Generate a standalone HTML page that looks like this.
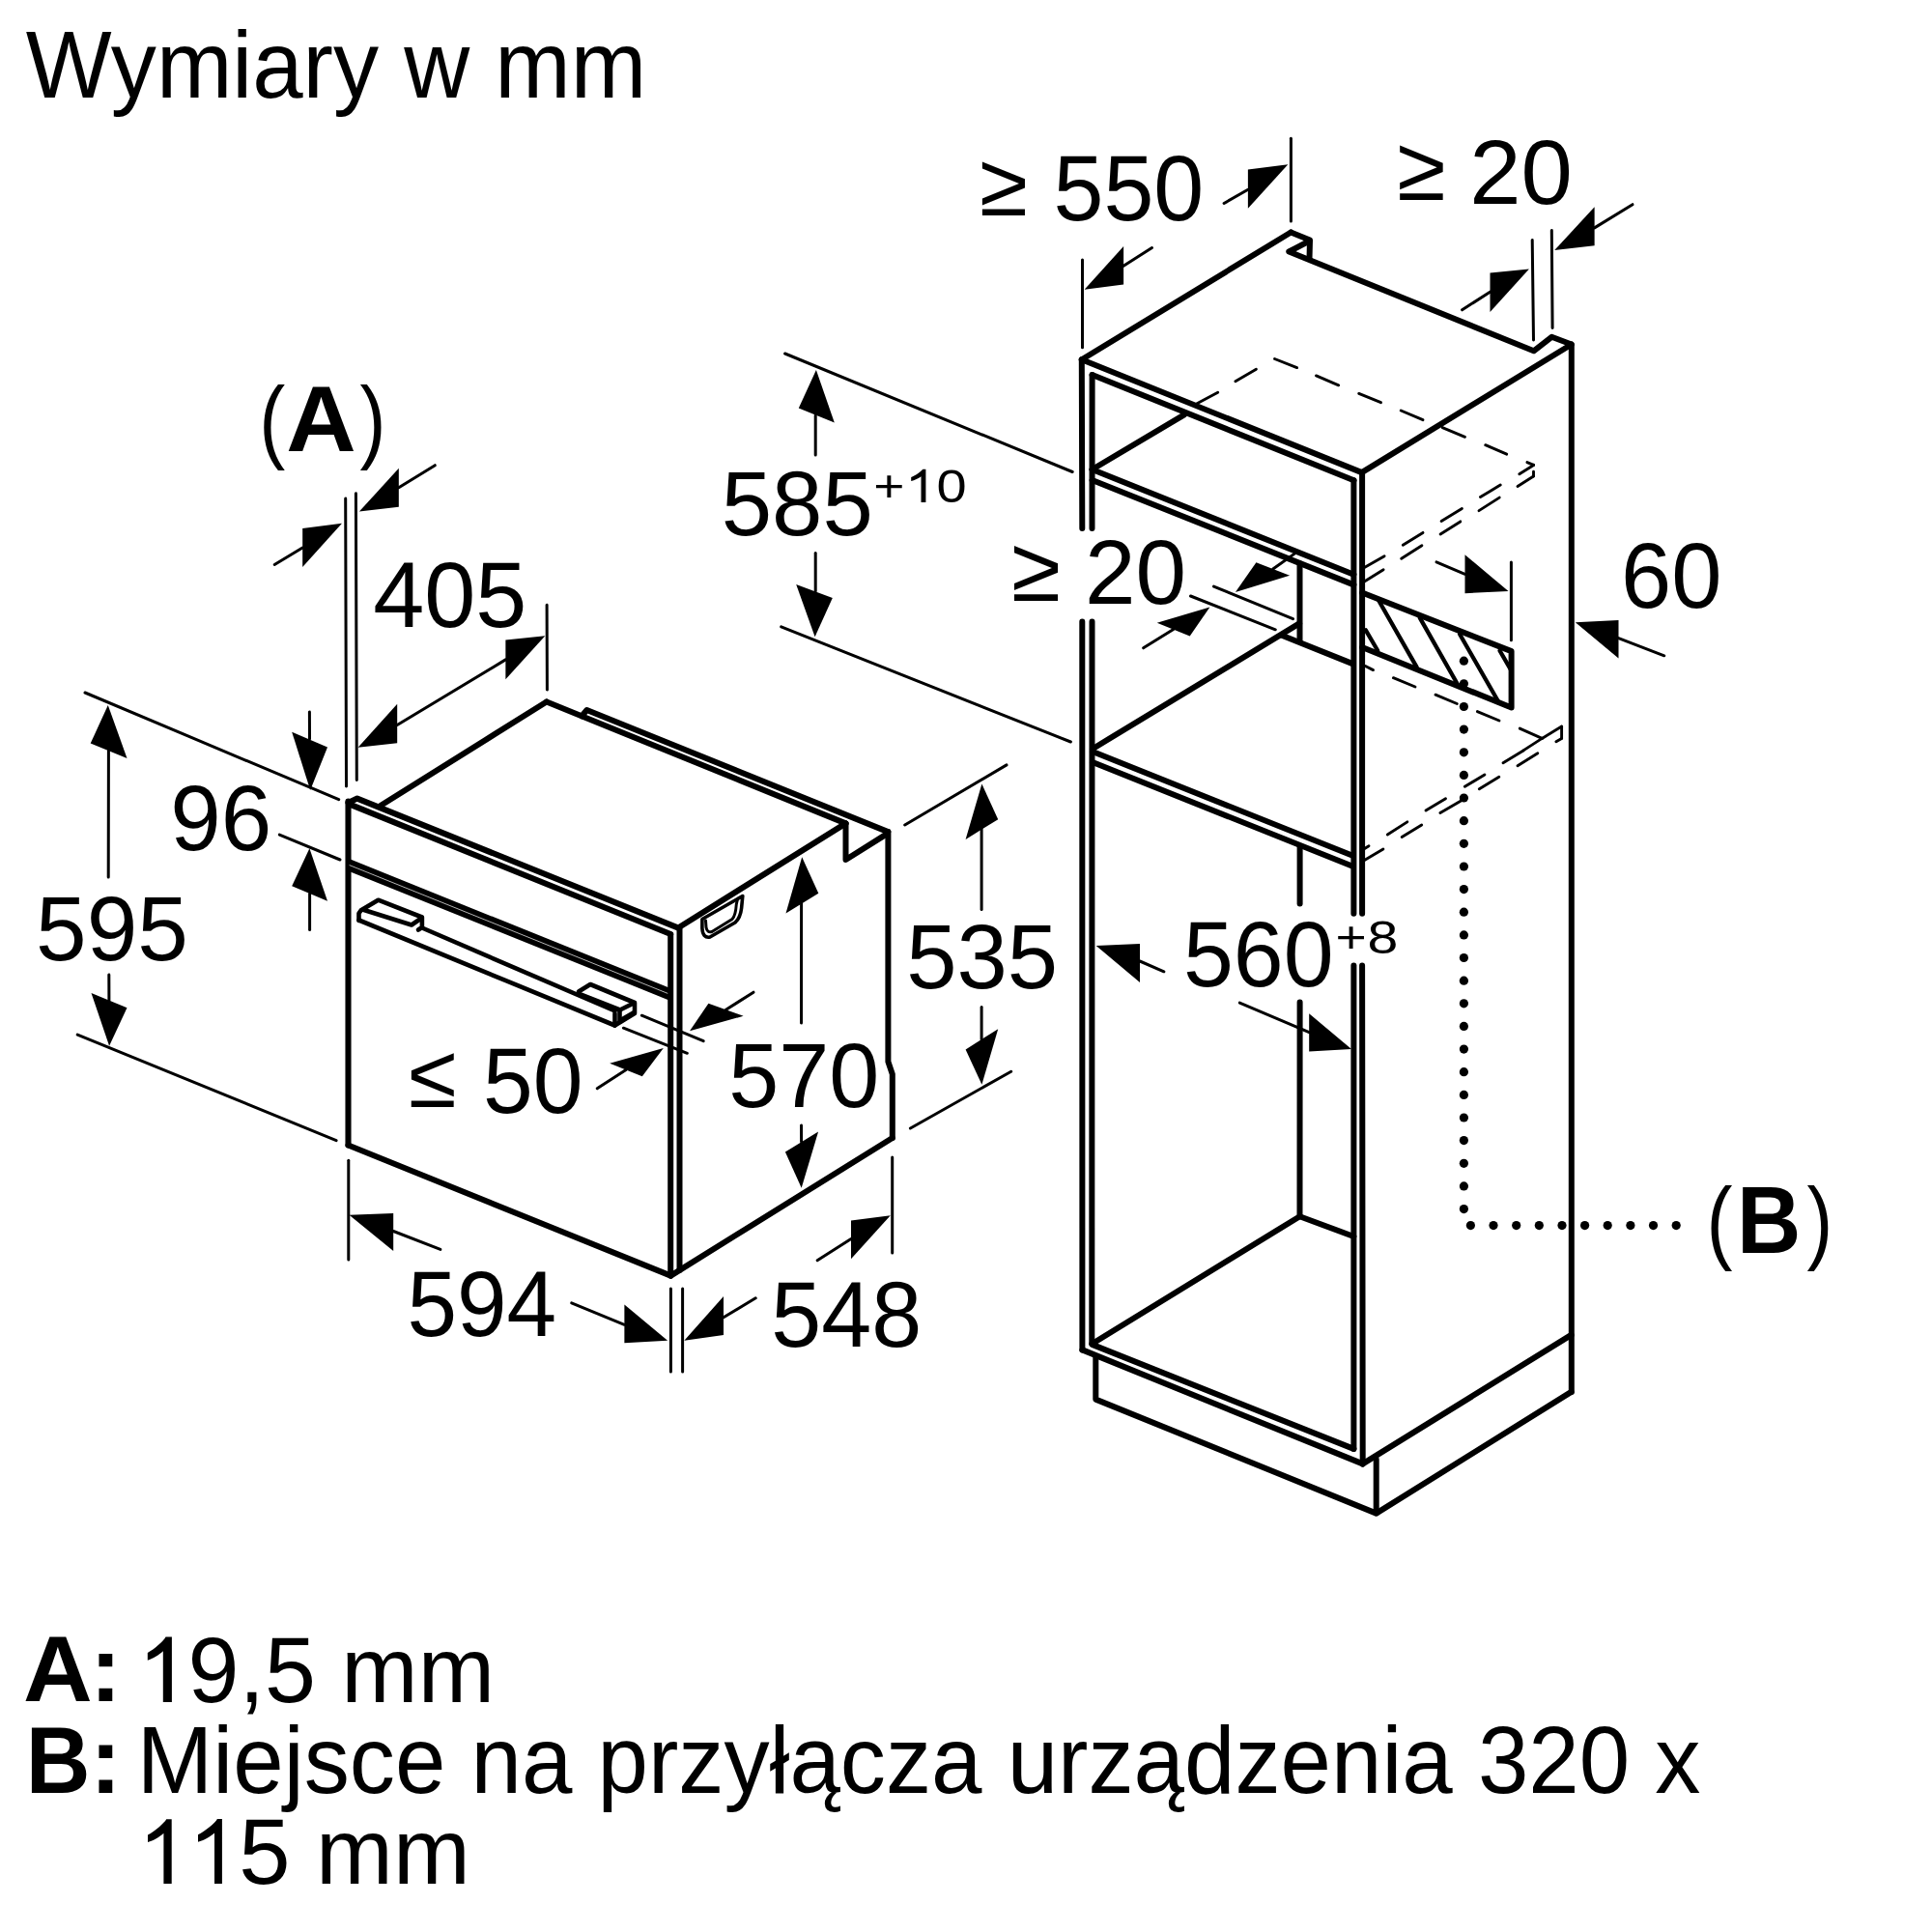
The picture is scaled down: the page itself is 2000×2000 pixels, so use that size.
<!DOCTYPE html>
<html><head><meta charset="utf-8"><style>
html,body{margin:0;padding:0;background:#fff;}
svg{display:block;}
text{font-family:"Liberation Sans",sans-serif;fill:#000;}
</style></head><body>
<svg width="2000" height="2000" viewBox="0 0 2000 2000" xmlns="http://www.w3.org/2000/svg">
<rect width="2000" height="2000" fill="#fff"/>
<g stroke="#000" stroke-linecap="round" stroke-linejoin="round" fill="none">
<line x1="360.5" y1="829.5" x2="360.5" y2="1185.5" stroke-width="6.1"/>
<polyline points="360.5,831.0 369.8,826.6 702.9,960.9" stroke-width="6.1" fill="none"/>
<line x1="362.0" y1="832.6" x2="694.2" y2="967.0" stroke-width="6.1"/>
<line x1="360.5" y1="895.1" x2="694.2" y2="1029.6" stroke-width="12.0" stroke-linecap="butt"/>
<line x1="362" y1="895.7" x2="693" y2="1029.1" stroke="#fff" stroke-width="0.7"/>
<line x1="360.5" y1="1185.5" x2="694.4" y2="1320.6" stroke-width="6.0"/>
<line x1="694.2" y1="967.5" x2="694.2" y2="1320.6" stroke-width="6.0"/>
<line x1="703.5" y1="960.0" x2="703.5" y2="1315.0" stroke-width="6.0"/>
<line x1="694.4" y1="1320.6" x2="923.8" y2="1178.0" stroke-width="6.0"/>
<polyline points="919.4,861.0 919.4,1099.0 923.8,1112.0 923.8,1178.0" stroke-width="6.0" fill="none"/>
<line x1="702.9" y1="960.0" x2="875.5" y2="852.4" stroke-width="6.0"/>
<polyline points="875.5,852.4 875.5,890.0 917.9,863.4" stroke-width="6.0" fill="none"/>
<line x1="565.8" y1="726.5" x2="875.5" y2="852.4" stroke-width="6.0"/>
<polyline points="602.3,741.2 607.5,735.0 919.3,861.1" stroke-width="6.0" fill="none"/>
<line x1="393.1" y1="834.5" x2="565.8" y2="726.5" stroke-width="6.0"/>
<path d="M726.9,951.5 L726.9,961 Q727.5,971.5 735,970 L761,955 Q766.5,950 767.6,940 L768.8,927.5 Z" fill="none" stroke-width="3.6"/>
<path d="M730.5,953 L731,960 Q732,966 737,964.5 L758,951.5 Q761.5,948 762.3,936 L763.5,931" fill="none" stroke-width="3.0"/>
<polyline points="371.5,953.0 371.5,945.5 373.8,942.2 391.5,931.7 436.9,949.5 436.9,960.0 433.0,962.5" stroke-width="4.6" fill="none"/>
<polyline points="376.0,941.8 426.0,957.5 435.5,951.0" stroke-width="4.6" fill="none"/>
<polyline points="436.9,960.5 636.5,1046.5" stroke-width="4.6" fill="none"/>
<polyline points="371.5,952.5 636.5,1061.5" stroke-width="4.6" fill="none"/>
<polyline points="599.0,1026.5 611.1,1019.0 657.0,1038.0 657.0,1049.0 636.5,1061.5 636.5,1049.0" stroke-width="4.6" fill="none"/>
<polyline points="601.0,1029.5 641.8,1045.5 656.0,1038.5" stroke-width="4.6" fill="none"/>
<polyline points="643.5,1054.5 656.5,1047.0" stroke-width="3.0" fill="none"/>
<line x1="641.5" y1="1045.5" x2="641.5" y2="1058.0" stroke-width="4.6"/>
<line x1="357.7" y1="516.0" x2="358.5" y2="813.9" stroke-width="3.0"/>
<line x1="368.4" y1="510.7" x2="369.3" y2="807.4" stroke-width="3.0"/>
<polygon points="371.9,529.6 412.8,484.8 412.8,524.8" fill="#000" stroke="none"/>
<line x1="412.8" y1="504.8" x2="450.3" y2="481.7" stroke-width="3.0"/>
<polygon points="354.0,541.7 313.2,547.0 313.2,587.0" fill="#000" stroke="none"/>
<line x1="313.2" y1="567.0" x2="284.2" y2="584.5" stroke-width="3.0"/>
<line x1="566.1" y1="626.3" x2="566.4" y2="714.0" stroke-width="3.0"/>
<polygon points="564.3,658.2 523.4,662.6 523.4,703.2" fill="#000" stroke="none"/>
<line x1="523.4" y1="682.9" x2="411.2" y2="750.5" stroke-width="3.0"/>
<polygon points="370.6,773.8 411.2,728.8 411.2,769.2" fill="#000" stroke="none"/>
<line x1="88.0" y1="717.0" x2="350.7" y2="827.7" stroke-width="3.0"/>
<polygon points="111.8,729.9 93.7,769.6 131.5,785.0" fill="#000" stroke="none"/>
<line x1="112.4" y1="777.0" x2="112.2" y2="908.0" stroke-width="3.0"/>
<line x1="112.8" y1="1009.0" x2="112.9" y2="1036.0" stroke-width="3.0"/>
<polygon points="113.1,1082.8 94.5,1027.9 131.5,1043.3" fill="#000" stroke="none"/>
<line x1="80.2" y1="1071.1" x2="348.1" y2="1180.6" stroke-width="3.0"/>
<line x1="320.4" y1="737.0" x2="320.5" y2="765.0" stroke-width="3.0"/>
<polygon points="321.2,818.0 302.2,757.8 339.0,773.4" fill="#000" stroke="none"/>
<line x1="289.3" y1="864.1" x2="352.0" y2="890.0" stroke-width="3.0"/>
<polygon points="320.4,878.3 302.2,917.2 339.0,932.8" fill="#000" stroke="none"/>
<line x1="320.6" y1="925.0" x2="320.6" y2="962.5" stroke-width="3.0"/>
<polygon points="830.2,887.2 813.5,945.6 847.3,924.8" fill="#000" stroke="none"/>
<line x1="829.6" y1="935.0" x2="829.5" y2="1059.0" stroke-width="3.0"/>
<line x1="829.5" y1="1165.0" x2="829.6" y2="1182.0" stroke-width="3.0"/>
<polygon points="829.7,1229.7 812.9,1192.4 847.1,1171.6" fill="#000" stroke="none"/>
<line x1="936.7" y1="854.0" x2="1042.0" y2="791.9" stroke-width="3.0"/>
<polygon points="1016.4,811.6 999.6,868.9 1033.2,848.3" fill="#000" stroke="none"/>
<line x1="1016.1" y1="858.0" x2="1016.1" y2="941.5" stroke-width="3.0"/>
<line x1="1016.1" y1="1042.4" x2="1016.1" y2="1076.0" stroke-width="3.0"/>
<polygon points="1016.4,1122.7 999.6,1086.4 1033.2,1065.2" fill="#000" stroke="none"/>
<line x1="942.4" y1="1168.0" x2="1046.7" y2="1109.2" stroke-width="3.0"/>
<line x1="664.3" y1="1051.2" x2="728.2" y2="1077.6" stroke-width="3.0"/>
<line x1="645.4" y1="1064.2" x2="711.4" y2="1090.3" stroke-width="3.0"/>
<polygon points="714.0,1067.3 733.4,1038.8 769.6,1051.8" fill="#000" stroke="none"/>
<line x1="751.5" y1="1045.3" x2="780.0" y2="1027.2" stroke-width="3.0"/>
<polygon points="686.8,1084.9 631.2,1100.8 664.8,1114.3" fill="#000" stroke="none"/>
<line x1="648.0" y1="1107.6" x2="618.2" y2="1126.8" stroke-width="3.0"/>
<line x1="360.8" y1="1201.3" x2="360.8" y2="1304.0" stroke-width="3.0"/>
<polygon points="361.5,1257.7 407.2,1255.9 407.2,1295.1" fill="#000" stroke="none"/>
<line x1="407.2" y1="1274.5" x2="455.9" y2="1293.4" stroke-width="3.0"/>
<polygon points="691.1,1387.8 646.4,1350.4 646.4,1390.2" fill="#000" stroke="none"/>
<line x1="646.4" y1="1371.3" x2="591.7" y2="1348.8" stroke-width="3.0"/>
<line x1="694.4" y1="1333.9" x2="694.4" y2="1420.0" stroke-width="3.0"/>
<line x1="706.6" y1="1333.9" x2="706.6" y2="1420.0" stroke-width="3.0"/>
<polygon points="708.3,1387.8 749.0,1342.1 749.0,1381.9" fill="#000" stroke="none"/>
<line x1="749.0" y1="1363.7" x2="782.2" y2="1343.8" stroke-width="3.0"/>
<polygon points="921.8,1258.2 881.0,1263.4 881.0,1303.2" fill="#000" stroke="none"/>
<line x1="881.0" y1="1282.5" x2="846.1" y2="1304.8" stroke-width="3.0"/>
<line x1="923.7" y1="1198.1" x2="923.7" y2="1297.0" stroke-width="3.0"/>
<line x1="1119.8" y1="372.3" x2="1120.3" y2="547.0" stroke-width="6.0"/>
<line x1="1120.3" y1="643.5" x2="1120.4" y2="1397.4" stroke-width="6.0"/>
<line x1="1130.6" y1="388.0" x2="1130.5" y2="547.0" stroke-width="6.0"/>
<line x1="1130.5" y1="643.5" x2="1130.3" y2="1391.2" stroke-width="6.0"/>
<line x1="1119.8" y1="372.3" x2="1336.3" y2="240.5" stroke-width="6.0"/>
<polyline points="1336.3,240.5 1356.0,248.5 1355.5,268.0" stroke-width="6.0" fill="none"/>
<polyline points="1355.5,249.5 1334.3,260.5 1587.7,363.3 1606.3,348.8 1626.8,356.5 1626.8,1440.9" stroke-width="6.0" fill="none"/>
<line x1="1119.8" y1="372.3" x2="1409.7" y2="489.1" stroke-width="6.0"/>
<line x1="1409.7" y1="489.1" x2="1626.8" y2="356.5" stroke-width="6.0"/>
<line x1="1130.6" y1="388.0" x2="1401.5" y2="497.3" stroke-width="6.0"/>
<line x1="1401.4" y1="497.3" x2="1401.4" y2="945.8" stroke-width="6.0"/>
<line x1="1401.4" y1="999.6" x2="1401.4" y2="1499.9" stroke-width="6.0"/>
<line x1="1410.1" y1="489.1" x2="1410.1" y2="945.8" stroke-width="6.0"/>
<line x1="1410.1" y1="999.6" x2="1410.7" y2="1515.4" stroke-width="6.0"/>
<line x1="1130.6" y1="486.0" x2="1225.9" y2="429.4" stroke-width="6.0"/>
<line x1="1130.6" y1="486.0" x2="1401.4" y2="594.7" stroke-width="6.0"/>
<line x1="1130.6" y1="497.0" x2="1401.4" y2="605.4" stroke-width="6.0"/>
<line x1="1345.5" y1="583.3" x2="1345.5" y2="663.5" stroke-width="6.0"/>
<line x1="1327.0" y1="657.7" x2="1400.9" y2="687.4" stroke-width="6.0"/>
<line x1="1131.0" y1="775.2" x2="1345.1" y2="645.4" stroke-width="6.0"/>
<line x1="1131.0" y1="778.0" x2="1400.9" y2="886.0" stroke-width="6.0"/>
<line x1="1131.0" y1="789.0" x2="1400.9" y2="897.0" stroke-width="6.0"/>
<line x1="1345.6" y1="876.5" x2="1345.6" y2="935.4" stroke-width="6.0"/>
<line x1="1345.6" y1="1037.6" x2="1345.5" y2="1259.2" stroke-width="6.0"/>
<polyline points="1130.3,1391.2 1345.5,1259.2 1401.4,1280.0" stroke-width="6.0" fill="none"/>
<line x1="1131.2" y1="1392.1" x2="1401.4" y2="1499.9" stroke-width="6.0"/>
<line x1="1120.4" y1="1397.4" x2="1410.7" y2="1515.4" stroke-width="6.0"/>
<line x1="1410.7" y1="1515.4" x2="1626.6" y2="1381.9" stroke-width="6.0"/>
<polyline points="1134.3,1405.2 1134.3,1448.6 1424.7,1566.6 1626.6,1440.9" stroke-width="6.0" fill="none"/>
<line x1="1424.7" y1="1510.7" x2="1424.7" y2="1566.6" stroke-width="6.0"/>
<polyline points="1410.0,613.5 1564.6,674.1 1564.6,732.5 1410.0,670.0" stroke-width="6.0" fill="none"/>
<line x1="1413.8" y1="652.3" x2="1426.2" y2="673.5" stroke-width="4.3"/>
<line x1="1427.3" y1="621.8" x2="1466.6" y2="690.6" stroke-width="4.3"/>
<line x1="1469.7" y1="639.4" x2="1509.1" y2="708.7" stroke-width="4.3"/>
<line x1="1511.1" y1="656.5" x2="1550.5" y2="725.3" stroke-width="4.3"/>
<line x1="1552.5" y1="673.5" x2="1563.9" y2="693.2" stroke-width="4.3"/>
<line x1="1120.5" y1="269.0" x2="1120.5" y2="359.8" stroke-width="3.0"/>
<line x1="1336.4" y1="143.2" x2="1336.4" y2="228.9" stroke-width="3.0"/>
<polygon points="1122.6,299.7 1163.1,255.0 1163.1,294.6" fill="#000" stroke="none"/>
<line x1="1163.1" y1="275.3" x2="1192.5" y2="256.6" stroke-width="3.0"/>
<polygon points="1333.3,170.3 1291.9,175.5 1291.9,215.7" fill="#000" stroke="none"/>
<line x1="1291.9" y1="196.2" x2="1267.1" y2="210.5" stroke-width="3.0"/>
<line x1="1586.2" y1="248.4" x2="1587.5" y2="351.9" stroke-width="3.0"/>
<line x1="1606.3" y1="238.4" x2="1607.1" y2="339.5" stroke-width="3.0"/>
<polygon points="1582.9,278.4 1542.5,282.5 1542.5,322.9" fill="#000" stroke="none"/>
<line x1="1542.5" y1="302.2" x2="1513.6" y2="320.8" stroke-width="3.0"/>
<polygon points="1609.2,259.1 1650.6,214.2 1650.6,254.2" fill="#000" stroke="none"/>
<line x1="1650.6" y1="235.9" x2="1690.0" y2="211.7" stroke-width="3.0"/>
<line x1="812.6" y1="366.0" x2="1110.2" y2="488.5" stroke-width="3.0"/>
<line x1="808.7" y1="648.9" x2="1108.4" y2="768.0" stroke-width="3.0"/>
<polygon points="844.9,383.1 826.8,422.5 863.8,437.5" fill="#000" stroke="none"/>
<line x1="844.2" y1="430.0" x2="844.2" y2="471.1" stroke-width="3.0"/>
<line x1="844.2" y1="572.6" x2="844.2" y2="612.0" stroke-width="3.0"/>
<polygon points="843.6,659.3 824.2,604.9 861.8,619.1" fill="#000" stroke="none"/>
<line x1="1256.5" y1="607.1" x2="1338.5" y2="640.7" stroke-width="3.0"/>
<line x1="1232.5" y1="617.0" x2="1320.3" y2="651.8" stroke-width="3.0"/>
<polygon points="1278.9,612.9 1300.4,582.2 1335.1,595.7" fill="#000" stroke="none"/>
<line x1="1317.8" y1="589.0" x2="1340.2" y2="573.1" stroke-width="3.0"/>
<polygon points="1252.4,628.6 1197.7,644.7 1231.7,658.4" fill="#000" stroke="none"/>
<line x1="1214.7" y1="651.5" x2="1183.6" y2="670.8" stroke-width="3.0"/>
<line x1="1564.4" y1="581.9" x2="1564.4" y2="662.7" stroke-width="3.0"/>
<polygon points="1561.5,611.9 1516.5,574.2 1516.5,614.2" fill="#000" stroke="none"/>
<line x1="1516.5" y1="594.3" x2="1487.0" y2="581.9" stroke-width="3.0"/>
<polygon points="1630.8,644.3 1675.5,642.0 1675.5,681.6" fill="#000" stroke="none"/>
<line x1="1675.5" y1="660.6" x2="1722.8" y2="678.8" stroke-width="3.0"/>
<polygon points="1134.7,979.0 1180.0,976.9 1180.0,1016.9" fill="#000" stroke="none"/>
<line x1="1180.0" y1="995.0" x2="1204.9" y2="1005.8" stroke-width="3.0"/>
<polygon points="1399.0,1086.0 1355.2,1049.3 1355.2,1088.6" fill="#000" stroke="none"/>
<line x1="1355.2" y1="1068.7" x2="1283.3" y2="1038.1" stroke-width="3.0"/>
<line x1="1239.1" y1="417.8" x2="1260.7" y2="406.3" stroke-width="2.9"/>
<line x1="1278.9" y1="394.7" x2="1300.4" y2="382.2" stroke-width="2.9"/>
<line x1="1319.5" y1="371.5" x2="1342.6" y2="380.6" stroke-width="2.9"/>
<line x1="1362.5" y1="388.9" x2="1385.7" y2="398.8" stroke-width="2.9"/>
<line x1="1406.7" y1="407.4" x2="1429.5" y2="416.7" stroke-width="2.9"/>
<line x1="1450.2" y1="425.0" x2="1473.0" y2="434.7" stroke-width="2.9"/>
<line x1="1493.2" y1="442.6" x2="1516.5" y2="452.3" stroke-width="2.9"/>
<line x1="1537.7" y1="460.7" x2="1559.7" y2="470.2" stroke-width="2.9"/>
<line x1="1580.9" y1="478.6" x2="1587.6" y2="481.4" stroke-width="2.9"/>
<line x1="1587.6" y1="481.4" x2="1572.8" y2="490.7" stroke-width="2.9"/>
<line x1="1553.2" y1="502.1" x2="1532.5" y2="514.6" stroke-width="2.9"/>
<line x1="1513.4" y1="526.5" x2="1492.1" y2="539.4" stroke-width="2.9"/>
<line x1="1473.0" y1="551.4" x2="1452.3" y2="564.3" stroke-width="2.9"/>
<line x1="1433.1" y1="575.7" x2="1412.4" y2="587.6" stroke-width="2.9"/>
<line x1="1587.5" y1="488.3" x2="1587.5" y2="493.0" stroke-width="2.9"/>
<line x1="1587.5" y1="493.0" x2="1571.0" y2="503.4" stroke-width="2.9"/>
<line x1="1552.2" y1="515.1" x2="1531.0" y2="528.6" stroke-width="2.9"/>
<line x1="1511.8" y1="539.9" x2="1491.1" y2="552.9" stroke-width="2.9"/>
<line x1="1471.9" y1="564.8" x2="1450.7" y2="578.3" stroke-width="2.9"/>
<line x1="1432.1" y1="589.7" x2="1412.4" y2="602.1" stroke-width="2.9"/>
<line x1="1413.4" y1="689.5" x2="1421.5" y2="693.6" stroke-width="2.9"/>
<line x1="1442.4" y1="701.7" x2="1465.0" y2="711.0" stroke-width="2.9"/>
<line x1="1486.0" y1="719.2" x2="1508.3" y2="728.5" stroke-width="2.9"/>
<line x1="1529.4" y1="736.6" x2="1552.0" y2="746.0" stroke-width="2.9"/>
<line x1="1573.3" y1="754.1" x2="1596.3" y2="764.4" stroke-width="2.9"/>
<line x1="1596.3" y1="764.4" x2="1616.6" y2="752.1" stroke-width="2.9"/>
<line x1="1616.6" y1="752.1" x2="1616.6" y2="764.4" stroke-width="2.9"/>
<line x1="1616.6" y1="764.4" x2="1610.9" y2="767.8" stroke-width="2.9"/>
<line x1="1596.3" y1="764.4" x2="1577.0" y2="776.9" stroke-width="2.9"/>
<line x1="1577.0" y1="776.9" x2="1556.0" y2="789.7" stroke-width="2.9"/>
<line x1="1536.9" y1="801.9" x2="1516.4" y2="814.3" stroke-width="2.9"/>
<line x1="1496.5" y1="826.7" x2="1476.0" y2="839.1" stroke-width="2.9"/>
<line x1="1456.8" y1="850.9" x2="1436.3" y2="864.0" stroke-width="2.9"/>
<line x1="1417.0" y1="875.8" x2="1411.0" y2="879.5" stroke-width="2.9"/>
<line x1="1591.8" y1="779.7" x2="1571.0" y2="792.8" stroke-width="2.9"/>
<line x1="1551.8" y1="804.3" x2="1531.3" y2="816.8" stroke-width="2.9"/>
<line x1="1512.0" y1="829.2" x2="1490.9" y2="841.6" stroke-width="2.9"/>
<line x1="1471.7" y1="854.0" x2="1451.2" y2="866.5" stroke-width="2.9"/>
<line x1="1431.9" y1="878.9" x2="1412.0" y2="890.7" stroke-width="2.9"/>
<circle cx="1515.4" cy="684.2" r="4.6" fill="#000" stroke="none"/>
<circle cx="1515.4" cy="707.8" r="4.6" fill="#000" stroke="none"/>
<circle cx="1515.4" cy="731.5" r="4.6" fill="#000" stroke="none"/>
<circle cx="1515.4" cy="755.1" r="4.6" fill="#000" stroke="none"/>
<circle cx="1515.4" cy="778.8" r="4.6" fill="#000" stroke="none"/>
<circle cx="1515.4" cy="802.4" r="4.6" fill="#000" stroke="none"/>
<circle cx="1515.4" cy="826.0" r="4.6" fill="#000" stroke="none"/>
<circle cx="1515.4" cy="849.7" r="4.6" fill="#000" stroke="none"/>
<circle cx="1515.4" cy="873.3" r="4.6" fill="#000" stroke="none"/>
<circle cx="1515.4" cy="897.0" r="4.6" fill="#000" stroke="none"/>
<circle cx="1515.4" cy="920.6" r="4.6" fill="#000" stroke="none"/>
<circle cx="1515.4" cy="944.2" r="4.6" fill="#000" stroke="none"/>
<circle cx="1515.4" cy="967.9" r="4.6" fill="#000" stroke="none"/>
<circle cx="1515.4" cy="991.5" r="4.6" fill="#000" stroke="none"/>
<circle cx="1515.4" cy="1015.2" r="4.6" fill="#000" stroke="none"/>
<circle cx="1515.4" cy="1038.8" r="4.6" fill="#000" stroke="none"/>
<circle cx="1515.4" cy="1062.4" r="4.6" fill="#000" stroke="none"/>
<circle cx="1515.4" cy="1086.1" r="4.6" fill="#000" stroke="none"/>
<circle cx="1515.4" cy="1109.7" r="4.6" fill="#000" stroke="none"/>
<circle cx="1515.4" cy="1133.4" r="4.6" fill="#000" stroke="none"/>
<circle cx="1515.4" cy="1157.0" r="4.6" fill="#000" stroke="none"/>
<circle cx="1515.4" cy="1180.6" r="4.6" fill="#000" stroke="none"/>
<circle cx="1515.4" cy="1204.3" r="4.6" fill="#000" stroke="none"/>
<circle cx="1515.4" cy="1227.9" r="4.6" fill="#000" stroke="none"/>
<circle cx="1515.4" cy="1251.6" r="4.6" fill="#000" stroke="none"/>
<circle cx="1522.4" cy="1268.6" r="4.6" fill="#000" stroke="none"/>
<circle cx="1546.0" cy="1268.6" r="4.6" fill="#000" stroke="none"/>
<circle cx="1569.7" cy="1268.6" r="4.6" fill="#000" stroke="none"/>
<circle cx="1593.3" cy="1268.6" r="4.6" fill="#000" stroke="none"/>
<circle cx="1617.0" cy="1268.6" r="4.6" fill="#000" stroke="none"/>
<circle cx="1640.6" cy="1268.6" r="4.6" fill="#000" stroke="none"/>
<circle cx="1664.2" cy="1268.6" r="4.6" fill="#000" stroke="none"/>
<circle cx="1687.9" cy="1268.6" r="4.6" fill="#000" stroke="none"/>
<circle cx="1711.5" cy="1268.6" r="4.6" fill="#000" stroke="none"/>
<circle cx="1735.2" cy="1268.6" r="4.6" fill="#000" stroke="none"/>
</g>
<g>
<path d="M168.80,1762.00 L177.90,1762.00 L177.90,1694.50 L171.53,1694.50 C169.68,1698.28 159.74,1707.39 152.80,1710.88 L152.80,1718.64 C158.35,1716.97 164.82,1713.14 168.80,1709.26 Z" fill="#000"/>
<path d="M169.40,1949.90 L177.70,1949.90 L177.70,1883.20 L172.20,1883.20 C170.30,1886.94 160.11,1895.93 153.00,1899.39 L153.00,1907.06 C158.69,1905.40 165.32,1901.61 169.40,1897.78 Z" fill="#000"/>
<path d="M222.00,1949.90 L229.90,1949.90 L229.90,1882.90 L224.90,1882.90 C222.93,1886.66 212.37,1895.69 205.00,1899.16 L205.00,1906.87 C210.90,1905.20 217.77,1901.40 222.00,1897.55 Z" fill="#000"/>
<path d="M953.50,519.90 L958.40,519.90 L958.40,485.70 L955.26,485.70 C954.07,487.62 947.67,492.23 943.20,494.00 L943.20,497.93 C946.77,497.08 950.94,495.14 953.50,493.18 Z" fill="#000"/>
<text transform="translate(26.83,101.00) scale(0.9558,1)" font-size="98.50" font-weight="normal">Wymiary w mm</text>
<text transform="translate(386.15,648.64) scale(0.9966,1)" font-size="95.77" font-weight="normal">405</text>
<text transform="translate(176.35,880.03) scale(0.9760,1)" font-size="96.76" font-weight="normal">96</text>
<text transform="translate(37.12,993.86) scale(1.0050,1)" font-size="94.08" font-weight="normal">595</text>
<text transform="translate(746.73,553.55) scale(0.9906,1)" font-size="95.07" font-weight="normal">585</text>
<text transform="translate(969.40,520.01) scale(1.1434,1)" font-size="49.01" font-weight="normal">0</text>
<text transform="translate(904.18,518.87) scale(1.1859,1)" font-size="46.53" font-weight="normal">+</text>
<text transform="translate(1013.88,222.90) scale(0.9853,1)" font-size="92.17" font-weight="normal">≥</text>
<text transform="translate(1090.46,227.74) scale(0.9766,1)" font-size="95.63" font-weight="normal">550</text>
<text transform="translate(1446.25,207.00) scale(0.9748,1)" font-size="94.00" font-weight="normal">≥</text>
<text transform="translate(1521.20,211.15) scale(1.0058,1)" font-size="95.35" font-weight="normal">20</text>
<text transform="translate(1047.11,621.70) scale(0.9792,1)" font-size="94.83" font-weight="normal">≥</text>
<text transform="translate(1123.08,625.15) scale(0.9993,1)" font-size="94.51" font-weight="normal">20</text>
<text transform="translate(1678.11,628.84) scale(0.9742,1)" font-size="96.34" font-weight="normal">60</text>
<text transform="translate(938.14,1022.86) scale(0.9996,1)" font-size="94.08" font-weight="normal">535</text>
<text transform="translate(1224.97,1021.04) scale(0.9702,1)" font-size="96.20" font-weight="normal">560</text>
<text transform="translate(1382.38,985.58) scale(1.2125,1)" font-size="45.51" font-weight="normal">+</text>
<text transform="translate(1415.47,987.31) scale(1.1677,1)" font-size="49.01" font-weight="normal">8</text>
<text transform="translate(422.99,1146.20) scale(0.9756,1)" font-size="92.67" font-weight="normal">≤</text>
<text transform="translate(500.08,1151.73) scale(0.9630,1)" font-size="96.62" font-weight="normal">50</text>
<text transform="translate(754.26,1146.05) scale(0.9873,1)" font-size="94.79" font-weight="normal">570</text>
<text transform="translate(421.39,1382.54) scale(0.9698,1)" font-size="95.63" font-weight="normal">594</text>
<text transform="translate(798.26,1394.14) scale(0.9770,1)" font-size="95.63" font-weight="normal">548</text>
<text transform="translate(268.33,466.70) scale(0.8586,1)" font-size="94.48" font-weight="normal">(</text>
<text transform="translate(296.29,466.70) scale(1.0345,1)" font-size="96.96" font-weight="bold">A</text>
<text transform="translate(372.59,466.70) scale(0.8586,1)" font-size="94.48" font-weight="normal">)</text>
<text transform="translate(1766.43,1296.30) scale(0.8586,1)" font-size="94.48" font-weight="normal">(</text>
<text transform="translate(1797.93,1296.50) scale(0.9424,1)" font-size="97.54" font-weight="bold">B</text>
<text transform="translate(1870.50,1296.30) scale(0.8507,1)" font-size="94.48" font-weight="normal">)</text>
<text transform="translate(23.92,1761.30) scale(1.0299,1)" font-size="96.38" font-weight="bold">A</text>
<text transform="translate(92.97,1761.30) scale(1.0160,1)" font-size="96.70" font-weight="bold">:</text>
<text transform="translate(194.51,1761.90) scale(0.9871,1)" font-size="96.50" font-weight="normal">9,5 mm</text>
<text transform="translate(26.79,1856.30) scale(0.9474,1)" font-size="97.54" font-weight="bold">B</text>
<text transform="translate(92.97,1856.30) scale(1.0076,1)" font-size="97.50" font-weight="bold">:</text>
<text transform="translate(141.86,1856.30) scale(0.9637,1)" font-size="97.80" font-weight="normal">Miejsce na przyłącza urządzenia 320 x</text>
<text transform="translate(247.17,1949.90) scale(1.0023,1)" font-size="95.60" font-weight="normal">5 mm</text>
</g>
</svg>
</body></html>
